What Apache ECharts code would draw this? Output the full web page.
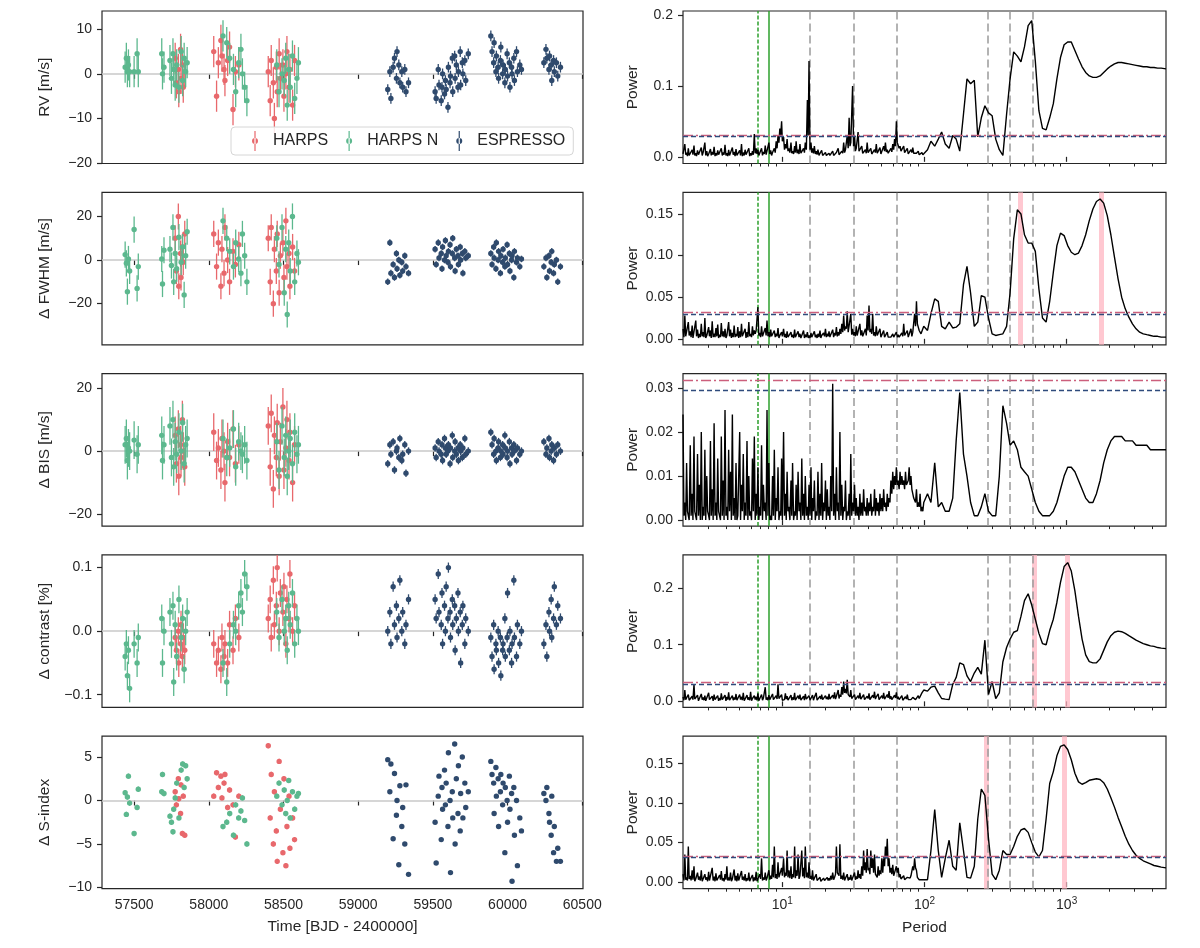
<!DOCTYPE html>
<html>
<head>
<meta charset="utf-8">
<title>Activity indicators and periodograms</title>
<script src="https://cdn.jsdelivr.net/npm/echarts@6/dist/echarts.min.js"></script>
<style>
  html, body { margin: 0; padding: 0; background: #fff; }
  #main { width: 1200px; height: 948px; }
</style>
</head>
<body>
<div id="main"></div>
<script>
// ---- observation times (BJD - 2400000) ----
var timesHARPS = [57775, 57783, 57796, 57799, 57811, 57814, 57823, 57829, 57839,
  58033, 58052, 58064, 58081, 58088, 58102, 58108, 58126, 58139, 58162, 58178, 58201,
  58398, 58411, 58418, 58432, 58439, 58452, 58458, 58471, 58479, 58496, 58503, 58516, 58523, 58537, 58543, 58561, 58574];
var timesHARPSN = [57440, 57448, 57455, 57462, 57470, 57500, 57520, 57528,
  57685, 57690, 57700, 57740, 57750, 57760, 57765, 57775, 57785, 57800, 57815, 57825, 57835, 57845, 57855,
  58095, 58120, 58140, 58165, 58180, 58200, 58215, 58225, 58240, 58255,
  58455, 58470, 58490, 58505, 58515, 58525, 58535, 58545, 58560, 58575, 58590, 58600];
var timesESPRESSO = [59198, 59212, 59219, 59234, 59243, 59256, 59260, 59272, 59279, 59292, 59298, 59312, 59320, 59337,
  59515, 59522, 59536, 59541, 59556, 59561, 59565, 59578, 59584, 59589, 59601, 59604, 59615, 59618,
  59630, 59633, 59646, 59649, 59657, 59668, 59671, 59683, 59686, 59697, 59701, 59714, 59720, 59737,
  59888, 59896, 59907, 59910, 59922, 59925, 59937, 59940, 59952, 59955, 59967, 59970, 59982,
  59985, 59997, 60000, 60012, 60016, 60027, 60030, 60042, 60046, 60060, 60066, 60082, 60093,
  60243, 60257, 60263, 60277, 60281, 60292, 60296, 60308, 60313, 60327, 60336, 60354];

// ---- RV ----
var rvHARPS = [3.5, -2.0, 1.0, -4.0, 5.5, -1.0, 2.0, -3.0, 0.5,
  5.0, -5.0, 2.5, 7.5, 4.0, 1.0, -1.5, 3.0, 6.0, -8.0, 0.5, 2.0,
  0.5, -6.0, 3.0, -2.0, -10.0, 1.5, -4.0, 4.5, -1.0, 2.0, -5.0, 0.0, 5.0, -3.0, 1.0, -7.0, 3.0];
var rvHARPSN = [1.5, 3.5, 0.5, 2.0, 0.5, 0.5, 4.5, 0.5,
  4.5, 0.0, 1.5, 3.0, -1.0, 4.5, 1.0, -2.5, 2.0, -3.0, 5.0, -1.5, 3.5, 0.5, 2.5,
  8.5, 7.0, 3.5, 1.0, -4.0, 2.5, 5.5, 0.0, -3.0, -6.0,
  2.0, -4.0, 0.0, -1.5, 3.5, -7.0, 1.0, -3.0, 4.0, -5.5, -1.0, 2.5];
var rvESPRESSO = [-3.5, 0.5, -5.5, 1.5, 3.5, -1.0, 5.0, 2.0, -2.0, 0.5, -3.0, 1.0, -4.0, -2.0,
  -4.0, -5.5, 1.0, -2.5, -6.0, -3.0, 0.0, -4.5, -1.5, -3.5, -7.5, 1.5, -2.0, -0.5,
  3.5, -4.0, 4.0, -1.0, 2.0, -3.0, 0.5, 5.0, -2.5, 2.5, 0.0, 3.0, -1.5, 4.5,
  8.5, 5.0, 2.5, 7.0, 0.5, 4.0, 1.5, -1.0, 3.0, 6.0, 0.0, 2.0, -2.0,
  1.0, 4.5, -0.5, 2.5, -3.0, 1.5, 0.0, 3.5, -1.5, 5.0, 0.5, 2.0, 1.0,
  2.5, 5.5, 3.5, 1.0, 4.0, 2.0, -1.5, 3.0, 0.5, 2.5, -0.5, 1.5];

// ---- FWHM ----
var fwhmHARPS = [10.0, -5.0, 20.0, -12.0, 3.0, -8.0, 6.0, -1.0, 12.0,
  12.0, -3.0, 8.0, -12.0, 5.0, -6.0, 15.0, 0.0, -10.0, 4.0, -2.0, 7.0,
  10.0, -10.0, 15.0, -20.0, 5.0, -5.0, 12.0, -15.0, 2.0, 8.0, -8.0, 18.0, -3.0, 3.0, -12.0, 6.0, -5.0];
var fwhmHARPSN = [2.5, -1.5, -14.5, 0.5, -5.0, 14.0, -13.0, -3.0,
  0.5, -11.0, 4.5, 5.0, -2.5, 15.0, -10.0, 3.0, -4.0, 10.5, -1.0, 6.0, -16.0, 2.0, 13.0,
  18.0, 10.0, 4.0, -3.0, 8.0, 0.5, -6.0, 12.0, 2.0, -10.0,
  10.0, -2.0, 15.0, -15.0, 5.0, -25.0, 8.0, -5.0, 20.0, -10.0, 3.0, -1.0];
var fwhmESPRESSO = [-10.0, 8.0, -6.0, -2.0, -8.0, 3.0, -4.0, 0.0, -7.0, -1.0, -5.0, 2.0, -3.0, -6.0,
  5.0, -2.0, 8.0, 1.0, 3.0, -4.0, 6.0, 0.0, 9.0, 2.0, -1.0, 4.0, 7.0, -3.0,
  3.0, 10.0, 1.0, -5.0, 5.0, 2.0, -2.0, 6.0, 0.0, 3.0, -6.0, 4.0, 1.0, 2.0,
  3.0, -2.0, 6.0, 1.0, -4.0, 8.0, 0.0, 4.0, -6.0, 2.0, -1.0, 5.0, -3.0,
  1.0, 7.0, -2.0, 3.0, -5.0, 0.0, 2.0, -8.0, 4.0, -1.0, 1.0, -3.0, 0.5,
  -3.0, 1.0, -8.0, 2.0, -5.0, -1.0, 4.0, -6.0, -2.0, 0.0, -10.0, -3.0];

// ---- BIS ----
var bisHARPS = [5.0, -4.0, 7.0, -8.0, 2.0, -2.0, 10.0, 0.0, -5.0,
  6.0, -3.0, 1.0, -6.0, 4.0, 0.0, -10.0, 3.0, -2.0, 7.0, -4.0, 2.0,
  8.0, -5.0, 12.0, -12.0, 5.0, -2.0, 9.0, -8.0, 3.0, 14.0, -6.0, 1.0, 10.0, -3.0, 6.0, -10.0, 2.0];
var bisHARPSN = [2.0, 4.0, -3.0, 1.0, 0.0, 3.5, -1.0, 2.0,
  5.0, -3.0, 2.0, 8.0, -2.0, 10.0, -5.0, 3.0, -1.0, 6.0, 0.0, 9.0, -4.0, 2.0, 4.0,
  4.0, -2.0, 1.0, 7.0, -5.0, 3.0, 0.0, -1.0, 2.0, -3.0,
  3.0, -6.0, 8.0, -2.0, 5.0, -8.0, 0.0, 4.0, -4.0, 6.0, -1.0, 2.0];
var bisESPRESSO = [-4, 2, -1, 3, -6, 0, 1, -2, 4, -3, -1, 2, -7, 0,
  1, -2, 3, 0, -1, 2, -3, 4, 1, -1, 0, 2, -4, 1,
  5, -2, 0, 3, -1, 1, -3, 2, 0, -2, 1, 4, -1, 0,
  6, 2, -1, 4, 0, -3, 1, 3, -2, 0, 2, -1, 5,
  1, -2, 0, 3, -4, 1, -1, 2, 0, -3, 1, -1, 0,
  3, -1, 1, 4, -2, 0, 2, -3, 1, -1, 2, 0];

// ---- contrast ----
var contrastHARPS = [-0.01, -0.03, 0.00, -0.05, -0.02, 0.01, -0.04, -0.01, -0.03,
  -0.02, -0.05, -0.03, -0.06, -0.01, -0.04, -0.02, -0.05, 0.01, -0.03, 0.02, -0.01,
  0.02, 0.05, -0.01, 0.08, 0.01, 0.04, 0.10, 0.00, 0.06, 0.03, 0.07, -0.02, 0.05, 0.02, 0.09, 0.00, 0.04];
var contrastHARPSN = [-0.04, -0.02, -0.07, -0.03, -0.09, -0.02, -0.05, -0.01,
  0.02, -0.05, 0.00, 0.03, -0.02, 0.04, -0.08, 0.01, -0.04, 0.05, -0.01, 0.02, -0.06, 0.00, 0.03,
  -0.05, -0.08, -0.02, 0.01, 0.00, 0.04, 0.06, 0.03, 0.09, 0.07,
  0.03, -0.01, 0.05, 0.00, 0.02, -0.03, 0.04, 0.01, 0.06, -0.02, 0.02, 0.00];
var contrastESPRESSO = [0.00, 0.03, -0.02, 0.07, 0.01, 0.04, -0.01, 0.02, 0.08, 0.00, 0.03, -0.02, 0.01, 0.05,
  0.05, 0.02, 0.09, 0.03, 0.01, 0.06, -0.02, 0.04, 0.00, 0.07, 0.02, 0.10, 0.03, -0.01,
  0.05, 0.01, 0.04, -0.03, 0.02, 0.06, 0.00, 0.03, -0.05, 0.01, 0.04, -0.02, 0.02, 0.00,
  -0.01, -0.04, 0.01, -0.06, -0.02, -0.03, 0.00, -0.05, -0.01, -0.07, -0.03, -0.02, 0.02,
  -0.04, -0.01, 0.06, -0.03, 0.00, -0.05, -0.02, 0.08, -0.01, -0.04, 0.01, -0.02, 0.00,
  -0.02, 0.01, -0.04, 0.03, 0.00, 0.05, -0.01, 0.02, 0.07, 0.01, 0.04, 0.02];

// ---- S-index ----
var sindexHARPS = [1.0, -0.5, 2.5, 0.2, -1.5, 1.8, -3.8, 0.5, -4.0,
  0.5, 3.2, 1.5, 2.8, 0.3, 2.0, 3.0, -0.8, 1.2, -0.5, -4.2, 0.5,
  6.3, -2.0, 3.0, -5.0, 1.0, -3.5, -7.0, 4.5, -1.0, -6.0, 2.5, -7.5, -3.0, 0.5, -5.5, -2.0, -4.5];
var sindexHARPSN = [0.9, -1.6, 0.4, 2.8, -0.3, -3.8, -0.8, 1.3,
  1.0, 3.0, 0.8, -1.8, -2.5, -3.6, -1.0, 0.3, 2.0, -2.0, 3.5, 4.2, 1.5, 4.0, 2.5,
  -3.0, -2.5, -1.5, -4.0, -0.5, -2.0, -1.2, 0.3, -2.3, -5.0,
  0.5, 2.0, -0.5, 1.2, -1.5, 0.0, 2.3, -2.0, 1.0, -1.0, 0.5, 0.8];
var sindexESPRESSO = [4.7, 1.0, 4.2, -4.4, 3.1, -1.7, 0.0, -7.4, 1.7, -3.0, -0.8, -5.0, 1.8, -8.5,
  -2.5, -7.2, 0.5, 2.8, -4.5, 1.5, -1.0, 3.5, -0.5, 2.0, -3.0, 5.5, 0.0, -8.3,
  1.0, -2.0, 6.5, -5.0, 2.5, -1.5, 4.0, -3.5, 0.8, 5.0, -2.0, 2.0, -0.8, 1.0,
  4.5, 3.0, 2.0, -1.5, 3.8, 0.5, 2.5, -3.0, 1.0, 3.0, -0.5, 2.0, -6.0,
  1.5, 0.0, -2.5, 2.8, -1.0, 0.8, -9.3, 1.5, -4.0, 0.0, -7.5, -2.0, -3.5,
  0.8, 0.0, 1.5, -1.5, -2.5, -4.0, 0.5, -6.0, -3.0, -7.0, -5.5, -7.0];

// typical error bar half-length per indicator (RV, FWHM, BIS, contrast, S-index)
var errHARPS = [3.5, 6, 6, 0.022, 0.3];
var errHARPSN = [3.5, 6, 6, 0.022, 0.3];
var errESPRESSO = [1.2, 1.5, 1.2, 0.008, 0.15];

// ---- periodograms ----
var periods = [
  2.00, 2.06, 2.12, 2.18, 2.25, 2.32, 2.39, 2.46, 2.53, 2.61,
  2.69, 2.77, 2.85, 2.94, 3.03, 3.12, 3.21, 3.31, 3.41, 3.51,
  3.62, 3.72, 3.84, 3.95, 4.07, 4.19, 4.32, 4.45, 4.58, 4.72,
  4.86, 5.01, 5.16, 5.31, 5.47, 5.64, 5.81, 5.98, 6.16, 6.35,
  6.54, 6.73, 6.93, 7.14, 7.36, 7.58, 7.80, 8.04, 8.28, 8.53,
  8.78, 9.05, 9.32, 9.60, 9.88, 10.2, 10.5, 10.8, 11.1, 11.5,
  11.8, 12.2, 12.5, 12.9, 13.3, 13.7, 14.1, 14.5, 15.0, 15.4,
  15.9, 16.3, 16.8, 17.3, 17.8, 18.4, 18.9, 19.5, 20.1, 20.7,
  21.3, 21.9, 22.6, 23.3, 24.0, 24.7, 25.4, 26.2, 27.0, 27.8,
  28.6, 29.5, 30.3, 31.2, 32.2, 33.1, 34.1, 35.1, 36.2, 37.3,
  38.4, 39.5, 40.7, 41.9, 43.2, 44.5, 45.8, 47.2, 48.6, 50.1,
  51.6, 53.1, 54.7, 56.3, 58.0, 59.8, 61.6, 63.4, 65.3, 67.3,
  69.3, 71.4, 73.5, 75.7, 78.0, 80.3, 82.7, 85.2, 87.8, 90.4,
  93.1, 95.9, 98.8,
  105, 111, 118, 125, 132, 140, 149, 158, 167, 177,
  188, 199, 211, 224, 237, 251, 266, 282, 299, 317,
  336, 356, 378, 400, 424, 450, 477, 505, 536, 568,
  602, 638, 676, 717, 760, 806, 854, 905, 960, 1017,
  1078, 1143, 1212, 1284, 1361, 1443, 1530, 1621, 1719, 1822,
  1931, 2047, 2170, 2300, 2438, 2584, 2739, 2904, 3078, 3263,
  3459, 3666, 3886, 4119, 4366, 4628, 5000];

// periods between the short-period samples, where the noisy part dips back down
var troughPeriods = [
  2.03, 2.09, 2.15, 2.21, 2.28, 2.35, 2.42, 2.49, 2.57, 2.65,
  2.73, 2.81, 2.89, 2.98, 3.07, 3.16, 3.26, 3.36, 3.46, 3.56,
  3.67, 3.78, 3.89, 4.01, 4.13, 4.25, 4.38, 4.51, 4.65, 4.79,
  4.93, 5.08, 5.23, 5.39, 5.55, 5.72, 5.89, 6.07, 6.25, 6.44,
  6.63, 6.83, 7.03, 7.25, 7.47, 7.69, 7.92, 8.16, 8.40, 8.65,
  8.91, 9.18, 9.46, 9.74, 10.0, 10.35, 10.65, 10.95, 11.3, 11.65,
  12.0, 12.35, 12.7, 13.1, 13.5, 13.9, 14.3, 14.75, 15.2, 15.65,
  16.1, 16.55, 17.05, 17.55, 18.1, 18.65, 19.2, 19.8, 20.4, 21.0,
  21.6, 22.25, 22.95, 23.65, 24.35, 25.05, 25.8, 26.6, 27.4, 28.2,
  29.05, 29.9, 30.75, 31.7, 32.65, 33.6, 34.6, 35.65, 36.75, 37.85,
  38.95, 40.1, 41.3, 42.55, 43.85, 45.15, 46.5, 47.9, 49.35, 50.85,
  52.35, 53.9, 55.5, 57.15, 58.9, 60.7, 62.5, 64.35, 66.3, 68.3,
  70.35, 72.45, 74.6, 76.85, 79.15, 81.5, 83.95, 86.5, 89.1, 91.75,
  94.5, 97.35];

var powerRV = [
  0.004, 0.018, 0.006, 0.012, 0.003, 0.010, 0.016, 0.005, 0.009, 0.004,
  0.013, 0.006, 0.020, 0.008, 0.004, 0.011, 0.007, 0.014, 0.005, 0.009,
  0.003, 0.012, 0.006, 0.017, 0.005, 0.010, 0.004, 0.013, 0.007, 0.011,
  0.004, 0.009, 0.018, 0.006, 0.010, 0.003, 0.012, 0.005, 0.008, 0.032,
  0.012, 0.010, 0.004, 0.012, 0.007, 0.016, 0.005, 0.020, 0.009, 0.006,
  0.012, 0.022, 0.030, 0.040, 0.050, 0.028, 0.018, 0.025, 0.012, 0.020,
  0.008, 0.015, 0.022, 0.010, 0.018, 0.006, 0.012, 0.020, 0.080, 0.135,
  0.020, 0.012, 0.015, 0.008, 0.010, 0.005, 0.009, 0.004, 0.006, 0.003,
  0.005, 0.003, 0.008, 0.004, 0.006, 0.012, 0.005, 0.008, 0.020, 0.010,
  0.030, 0.055, 0.020, 0.100, 0.030, 0.012, 0.035, 0.010, 0.015, 0.006,
  0.010, 0.020, 0.008, 0.012, 0.005, 0.010, 0.018, 0.007, 0.013, 0.006,
  0.015, 0.020, 0.010, 0.006, 0.012, 0.018, 0.025, 0.050, 0.020, 0.015,
  0.010, 0.015, 0.008, 0.012, 0.006, 0.010, 0.013, 0.007, 0.005, 0.008,
  0.004, 0.006, 0.004,
  0.010, 0.022, 0.015, 0.025, 0.035, 0.018, 0.012, 0.030, 0.025, 0.008,
  0.060, 0.110, 0.103, 0.108, 0.028, 0.055, 0.072, 0.062, 0.058, 0.025,
  0.010, 0.002, 0.060, 0.110, 0.148, 0.142, 0.134, 0.155, 0.185, 0.192,
  0.135, 0.065, 0.040, 0.038, 0.055, 0.075, 0.110, 0.140, 0.158, 0.162,
  0.162, 0.150, 0.138, 0.127, 0.119, 0.114, 0.112, 0.112, 0.114, 0.119,
  0.124, 0.128, 0.131, 0.133, 0.133, 0.132, 0.131, 0.130, 0.129, 0.128,
  0.127, 0.127, 0.126, 0.126, 0.125, 0.125, 0.124];
var troughRV = [
  0.002, 0.003, 0.001, 0.002, 0.001, 0.003, 0.002, 0.001, 0.003, 0.002,
  0.002, 0.004, 0.002, 0.001, 0.003, 0.002, 0.003, 0.001, 0.002, 0.003,
  0.001, 0.002, 0.003, 0.002, 0.001, 0.002, 0.002, 0.003, 0.001, 0.002,
  0.003, 0.002, 0.001, 0.002, 0.003, 0.002, 0.001, 0.002, 0.003, 0.005,
  0.004, 0.002, 0.003, 0.002, 0.004, 0.003, 0.005, 0.004, 0.002, 0.004,
  0.006, 0.012, 0.020, 0.030, 0.022, 0.010, 0.012, 0.008, 0.006, 0.005,
  0.004, 0.006, 0.005, 0.004, 0.005, 0.004, 0.006, 0.010, 0.030, 0.010,
  0.006, 0.005, 0.004, 0.003, 0.002, 0.003, 0.002, 0.002, 0.002, 0.002,
  0.002, 0.003, 0.002, 0.003, 0.004, 0.003, 0.004, 0.005, 0.006, 0.008,
  0.012, 0.015, 0.020, 0.015, 0.008, 0.010, 0.008, 0.006, 0.005, 0.004,
  0.005, 0.006, 0.005, 0.004, 0.004, 0.006, 0.005, 0.006, 0.004, 0.005,
  0.008, 0.007, 0.005, 0.004, 0.007, 0.010, 0.015, 0.020, 0.012, 0.008,
  0.007, 0.006, 0.005, 0.004, 0.004, 0.006, 0.005, 0.004, 0.004, 0.003,
  0.003, 0.003];

var powerFWHM = [
  0.012, 0.028, 0.005, 0.020, 0.009, 0.016, 0.003, 0.022, 0.011, 0.006,
  0.018, 0.008, 0.025, 0.004, 0.014, 0.010, 0.021, 0.006, 0.013, 0.017,
  0.005, 0.019, 0.009, 0.012, 0.004, 0.020, 0.011, 0.007, 0.016, 0.006,
  0.014, 0.009, 0.018, 0.005, 0.012, 0.008, 0.020, 0.006, 0.015, 0.010,
  0.010, 0.038, 0.007, 0.015, 0.005, 0.013, 0.022, 0.008, 0.011, 0.005,
  0.010, 0.006, 0.013, 0.004, 0.008, 0.012, 0.006, 0.009, 0.003, 0.008,
  0.005, 0.011, 0.004, 0.009, 0.006, 0.003, 0.010, 0.005, 0.008, 0.004,
  0.007, 0.003, 0.009, 0.005, 0.006, 0.010, 0.004, 0.007, 0.012, 0.006,
  0.009, 0.005, 0.011, 0.007, 0.014, 0.008, 0.012, 0.018, 0.028, 0.015,
  0.033, 0.010, 0.030, 0.012, 0.008, 0.015, 0.006, 0.018, 0.010, 0.005,
  0.012, 0.028, 0.040, 0.012, 0.030, 0.008, 0.015, 0.006, 0.012, 0.004,
  0.010, 0.003, 0.008, 0.004, 0.002, 0.006, 0.003, 0.008, 0.005, 0.003,
  0.007, 0.018, 0.006, 0.010, 0.004, 0.012, 0.008, 0.030, 0.045, 0.020,
  0.012, 0.008, 0.015,
  0.010, 0.030, 0.048, 0.045, 0.015, 0.012, 0.020, 0.013, 0.014, 0.018,
  0.065, 0.087, 0.055, 0.015, 0.020, 0.052, 0.050, 0.025, 0.006, 0.004,
  0.005, 0.006, 0.015, 0.055, 0.120, 0.155, 0.150, 0.125, 0.115, 0.115,
  0.105, 0.060, 0.025, 0.020, 0.045, 0.080, 0.112, 0.127, 0.124, 0.112,
  0.104, 0.101, 0.103, 0.112, 0.125, 0.142, 0.156, 0.165, 0.168, 0.163,
  0.148, 0.125, 0.098, 0.072, 0.050, 0.036, 0.026, 0.018, 0.012, 0.008,
  0.006, 0.005, 0.004, 0.003, 0.003, 0.002, 0.002];
var troughFWHM = [
  0.002, 0.003, 0.001, 0.004, 0.002, 0.001, 0.002, 0.003, 0.001, 0.002,
  0.003, 0.002, 0.001, 0.002, 0.003, 0.001, 0.002, 0.002, 0.003, 0.001,
  0.002, 0.003, 0.002, 0.001, 0.002, 0.003, 0.001, 0.002, 0.002, 0.003,
  0.001, 0.002, 0.003, 0.002, 0.001, 0.002, 0.003, 0.002, 0.004, 0.006,
  0.008, 0.004, 0.002, 0.003, 0.002, 0.004, 0.003, 0.002, 0.003, 0.002,
  0.002, 0.003, 0.001, 0.002, 0.003, 0.002, 0.001, 0.002, 0.001, 0.002,
  0.001, 0.002, 0.001, 0.002, 0.001, 0.002, 0.001, 0.002, 0.001, 0.001,
  0.002, 0.001, 0.002, 0.001, 0.002, 0.001, 0.002, 0.003, 0.002, 0.003,
  0.002, 0.003, 0.002, 0.004, 0.003, 0.004, 0.006, 0.008, 0.010, 0.012,
  0.008, 0.006, 0.005, 0.004, 0.003, 0.004, 0.003, 0.004, 0.003, 0.002,
  0.004, 0.010, 0.008, 0.006, 0.004, 0.003, 0.004, 0.003, 0.002, 0.002,
  0.002, 0.001, 0.002, 0.001, 0.001, 0.002, 0.001, 0.002, 0.002, 0.001,
  0.003, 0.004, 0.003, 0.002, 0.002, 0.003, 0.006, 0.015, 0.018, 0.010,
  0.006, 0.006];

var powerBIS = [
  0.024, 0.004, 0.013, 0.001, 0.017, 0.006, 0.019, 0.002, 0.015, 0.008,
  0.020, 0.003, 0.016, 0.010, 0.001, 0.018, 0.007, 0.022, 0.004, 0.014,
  0.002, 0.019, 0.009, 0.025, 0.003, 0.016, 0.011, 0.024, 0.005, 0.013,
  0.001, 0.020, 0.008, 0.015, 0.004, 0.018, 0.010, 0.002, 0.014, 0.019,
  0.006, 0.012, 0.003, 0.017, 0.008, 0.004, 0.025, 0.013, 0.001, 0.010,
  0.016, 0.005, 0.012, 0.002, 0.014, 0.020, 0.006, 0.011, 0.003, 0.009,
  0.013, 0.002, 0.008, 0.011, 0.004, 0.014, 0.006, 0.010, 0.003, 0.008,
  0.012, 0.005, 0.009, 0.002, 0.011, 0.006, 0.013, 0.004, 0.009, 0.007,
  0.003, 0.010, 0.031, 0.006, 0.012, 0.004, 0.020, 0.008, 0.003, 0.009,
  0.002, 0.006, 0.015, 0.004, 0.008, 0.005, 0.003, 0.006, 0.004, 0.007,
  0.003, 0.005, 0.004, 0.006, 0.003, 0.007, 0.005, 0.004, 0.006, 0.005,
  0.007, 0.004, 0.006, 0.005, 0.009, 0.011, 0.010, 0.012, 0.009, 0.011,
  0.010, 0.009, 0.011, 0.008, 0.012, 0.010, 0.007, 0.005, 0.007, 0.004,
  0.006, 0.003, 0.004,
  0.006, 0.004, 0.013, 0.003, 0.004, 0.002, 0.002, 0.005, 0.018, 0.029,
  0.015, 0.010, 0.004, 0.001, 0.001, 0.003, 0.006, 0.002, 0.001, 0.001,
  0.010, 0.026, 0.022, 0.017, 0.018, 0.016, 0.012, 0.011, 0.010, 0.007,
  0.004, 0.002, 0.001, 0.001, 0.001, 0.002, 0.004, 0.007, 0.010, 0.012,
  0.012, 0.011, 0.009, 0.007, 0.005, 0.004, 0.004, 0.006, 0.009, 0.013,
  0.016, 0.018, 0.019, 0.019, 0.019, 0.018, 0.018, 0.018, 0.017, 0.017,
  0.017, 0.017, 0.016, 0.016, 0.016, 0.016, 0.016];
var troughBIS = [
  0.001, 0.000, 0.002, 0.000, 0.001, 0.000, 0.002, 0.000, 0.001, 0.000,
  0.000, 0.001, 0.000, 0.002, 0.000, 0.001, 0.000, 0.001, 0.000, 0.002,
  0.000, 0.001, 0.000, 0.001, 0.000, 0.002, 0.000, 0.001, 0.000, 0.000,
  0.001, 0.000, 0.002, 0.000, 0.001, 0.000, 0.001, 0.000, 0.002, 0.000,
  0.001, 0.000, 0.001, 0.000, 0.002, 0.000, 0.001, 0.000, 0.000, 0.001,
  0.000, 0.002, 0.000, 0.001, 0.000, 0.001, 0.000, 0.002, 0.000, 0.001,
  0.000, 0.001, 0.000, 0.002, 0.000, 0.001, 0.000, 0.001, 0.000, 0.001,
  0.000, 0.002, 0.000, 0.001, 0.000, 0.001, 0.000, 0.002, 0.000, 0.001,
  0.000, 0.002, 0.001, 0.000, 0.002, 0.000, 0.001, 0.000, 0.002, 0.000,
  0.001, 0.000, 0.001, 0.002, 0.001, 0.001, 0.000, 0.001, 0.001, 0.002,
  0.001, 0.001, 0.002, 0.001, 0.002, 0.001, 0.002, 0.001, 0.002, 0.002,
  0.003, 0.002, 0.003, 0.004, 0.006, 0.007, 0.008, 0.008, 0.007, 0.008,
  0.008, 0.007, 0.008, 0.009, 0.008, 0.007, 0.005, 0.004, 0.003, 0.003,
  0.002, 0.002];

var powerContrast = [
  0.008, 0.020, 0.005, 0.012, 0.003, 0.009, 0.030, 0.006, 0.011, 0.004,
  0.013, 0.007, 0.010, 0.003, 0.015, 0.006, 0.009, 0.012, 0.004, 0.010,
  0.006, 0.014, 0.005, 0.011, 0.008, 0.016, 0.004, 0.010, 0.007, 0.013,
  0.005, 0.012, 0.008, 0.015, 0.004, 0.011, 0.007, 0.017, 0.005, 0.010,
  0.008, 0.014, 0.004, 0.012, 0.006, 0.025, 0.007, 0.011, 0.005, 0.013,
  0.006, 0.010, 0.030, 0.008, 0.012, 0.005, 0.014, 0.009, 0.004, 0.011,
  0.007, 0.015, 0.005, 0.010, 0.012, 0.004, 0.009, 0.013, 0.006, 0.010,
  0.004, 0.011, 0.007, 0.015, 0.005, 0.009, 0.012, 0.006, 0.010, 0.008,
  0.013, 0.007, 0.011, 0.016, 0.009, 0.020, 0.012, 0.025, 0.035, 0.022,
  0.038, 0.015, 0.020, 0.008, 0.012, 0.006, 0.010, 0.015, 0.007, 0.012,
  0.005, 0.009, 0.014, 0.006, 0.011, 0.017, 0.008, 0.013, 0.005, 0.010,
  0.015, 0.007, 0.012, 0.018, 0.009, 0.005, 0.011, 0.016, 0.008, 0.006,
  0.010, 0.004, 0.008, 0.012, 0.006, 0.003, 0.007, 0.009, 0.005, 0.010,
  0.008, 0.015, 0.020,
  0.018, 0.025, 0.027, 0.015, 0.005, 0.004, 0.003, 0.030, 0.042, 0.068,
  0.065, 0.045, 0.035, 0.050, 0.060, 0.048, 0.108, 0.012, 0.035, 0.005,
  0.015, 0.070, 0.095, 0.110, 0.122, 0.125, 0.150, 0.178, 0.190, 0.170,
  0.145, 0.120, 0.102, 0.100, 0.125, 0.145, 0.175, 0.210, 0.238, 0.245,
  0.230, 0.195, 0.150, 0.110, 0.082, 0.070, 0.068, 0.068, 0.075, 0.090,
  0.105, 0.116, 0.122, 0.124, 0.123, 0.120, 0.116, 0.112, 0.108, 0.105,
  0.102, 0.100, 0.098, 0.097, 0.095, 0.094, 0.093];
var troughContrast = [
  0.002, 0.003, 0.001, 0.002, 0.001, 0.003, 0.004, 0.002, 0.001, 0.002,
  0.003, 0.002, 0.001, 0.002, 0.003, 0.002, 0.001, 0.003, 0.002, 0.001,
  0.002, 0.003, 0.002, 0.001, 0.003, 0.002, 0.001, 0.002, 0.003, 0.002,
  0.001, 0.003, 0.002, 0.001, 0.002, 0.003, 0.002, 0.001, 0.002, 0.003,
  0.002, 0.001, 0.003, 0.002, 0.004, 0.003, 0.002, 0.003, 0.002, 0.003,
  0.002, 0.004, 0.005, 0.003, 0.002, 0.003, 0.004, 0.002, 0.003, 0.002,
  0.003, 0.002, 0.003, 0.004, 0.002, 0.003, 0.002, 0.004, 0.003, 0.002,
  0.003, 0.002, 0.004, 0.002, 0.003, 0.004, 0.003, 0.002, 0.004, 0.003,
  0.004, 0.003, 0.005, 0.004, 0.006, 0.005, 0.008, 0.012, 0.015, 0.014,
  0.012, 0.008, 0.005, 0.004, 0.003, 0.004, 0.005, 0.004, 0.005, 0.003,
  0.004, 0.005, 0.003, 0.005, 0.006, 0.004, 0.005, 0.003, 0.004, 0.005,
  0.004, 0.005, 0.006, 0.004, 0.003, 0.004, 0.006, 0.004, 0.003, 0.004,
  0.002, 0.003, 0.004, 0.003, 0.002, 0.003, 0.004, 0.003, 0.004, 0.005,
  0.008, 0.012];

var powerSindex = [
  0.010, 0.035, 0.006, 0.045, 0.008, 0.015, 0.020, 0.004, 0.012, 0.007,
  0.015, 0.003, 0.010, 0.006, 0.013, 0.004, 0.018, 0.007, 0.011, 0.003,
  0.009, 0.014, 0.005, 0.010, 0.020, 0.006, 0.012, 0.004, 0.016, 0.008,
  0.011, 0.003, 0.014, 0.007, 0.010, 0.005, 0.012, 0.004, 0.009, 0.006,
  0.013, 0.002, 0.010, 0.030, 0.006, 0.012, 0.005, 0.015, 0.008, 0.022,
  0.045, 0.010, 0.025, 0.008, 0.018, 0.030, 0.012, 0.040, 0.015, 0.020,
  0.010, 0.045, 0.015, 0.035, 0.008, 0.040, 0.018, 0.045, 0.012, 0.025,
  0.008, 0.015, 0.005, 0.010, 0.004, 0.006, 0.003, 0.005, 0.004, 0.006,
  0.005, 0.008, 0.012, 0.006, 0.045, 0.010, 0.048, 0.008, 0.012, 0.005,
  0.010, 0.006, 0.009, 0.004, 0.012, 0.007, 0.015, 0.010, 0.020, 0.040,
  0.025, 0.042, 0.018, 0.040, 0.030, 0.035, 0.012, 0.020, 0.015, 0.030,
  0.030, 0.045, 0.055, 0.030, 0.018, 0.022, 0.012, 0.020, 0.018, 0.010,
  0.005, 0.008, 0.004, 0.006, 0.006, 0.008, 0.020, 0.030, 0.015, 0.004,
  0.002, 0.003, 0.004,
  0.003, 0.040, 0.092, 0.040, 0.006, 0.030, 0.053, 0.020, 0.015, 0.075,
  0.040, 0.006, 0.005, 0.020, 0.080, 0.118, 0.110, 0.055, 0.010, 0.003,
  0.015, 0.040, 0.035, 0.035, 0.045, 0.058, 0.066, 0.068, 0.063, 0.050,
  0.038, 0.032, 0.040, 0.080, 0.125, 0.140, 0.160, 0.172, 0.174, 0.168,
  0.155, 0.138, 0.127, 0.124, 0.126, 0.129, 0.130, 0.131, 0.130, 0.126,
  0.118, 0.107, 0.095, 0.082, 0.070, 0.058, 0.048, 0.040, 0.034, 0.030,
  0.027, 0.025, 0.023, 0.021, 0.020, 0.019, 0.018];
var troughSindex = [
  0.002, 0.003, 0.002, 0.004, 0.002, 0.003, 0.001, 0.002, 0.003, 0.002,
  0.001, 0.002, 0.003, 0.001, 0.002, 0.003, 0.002, 0.001, 0.002, 0.002,
  0.003, 0.002, 0.001, 0.003, 0.002, 0.002, 0.001, 0.003, 0.002, 0.001,
  0.002, 0.001, 0.003, 0.002, 0.001, 0.002, 0.001, 0.002, 0.001, 0.002,
  0.001, 0.002, 0.004, 0.002, 0.003, 0.002, 0.004, 0.003, 0.004, 0.006,
  0.005, 0.004, 0.006, 0.005, 0.008, 0.006, 0.008, 0.006, 0.005, 0.004,
  0.006, 0.005, 0.008, 0.004, 0.006, 0.007, 0.005, 0.006, 0.005, 0.004,
  0.003, 0.002, 0.003, 0.002, 0.002, 0.001, 0.002, 0.002, 0.001, 0.002,
  0.002, 0.003, 0.003, 0.010, 0.012, 0.008, 0.004, 0.003, 0.002, 0.003,
  0.002, 0.003, 0.002, 0.004, 0.003, 0.004, 0.005, 0.004, 0.008, 0.015,
  0.012, 0.015, 0.010, 0.018, 0.012, 0.010, 0.006, 0.008, 0.010, 0.012,
  0.020, 0.030, 0.020, 0.012, 0.010, 0.008, 0.010, 0.012, 0.006, 0.004,
  0.003, 0.003, 0.002, 0.004, 0.005, 0.006, 0.015, 0.018, 0.006, 0.003,
  0.002, 0.002];

// false-alarm levels per panel: [upper (dash-dot), lower (dashed)]
var fapLevels = [[0.031, 0.029], [0.032, 0.030], [0.0317, 0.0295], [0.034, 0.031], [0.033, 0.031]];
// marked periods
var planetPeriodDashed = 6.73;
var planetPeriodSolid = 8.04;
var greyPeriods = [15.6, 31.9, 63.7, 280, 396, 577];
var highlightPeriods = [[], [468, 1750], [], [590, 1016], [270, 955]];

// axes
var timeTicks = [57500, 58000, 58500, 59000, 59500, 60000, 60500];
var periodTicks = [10, 100, 1000];
var periodMinorTicks = [3, 4, 5, 6, 7, 8, 9, 20, 30, 40, 50, 60, 70, 80, 90,
  200, 300, 400, 500, 600, 700, 800, 900, 2000, 3000, 4000];
var leftNames = ['RV [m/s]', '\u0394 FWHM [m/s]', '\u0394 BIS [m/s]', '\u0394 contrast [%]', '\u0394 S-index'];
var leftRanges = [[-20.1, 14.1], [-38.9, 31.1], [-23.8, 24.6], [-0.12, 0.12], [-10.15, 7.4]];
var leftTicks = [[-20, -10, 0, 10], [-20, 0, 20], [-20, 0, 20], [-0.1, 0, 0.1], [-10, -5, 0, 5]];
var leftDecimals = [0, 0, 0, 1, 0];
var rightRanges = [[-0.0094, 0.2056], [-0.0072, 0.176], [-0.00137, 0.0333], [-0.0107, 0.2586], [-0.0084, 0.1849]];
var rightTicks = [[0, 0.1, 0.2], [0, 0.05, 0.1, 0.15], [0, 0.01, 0.02, 0.03], [0, 0.1, 0.2], [0, 0.05, 0.1, 0.15]];
var rightDecimals = [1, 2, 2, 1, 2];

var valsHARPS = [rvHARPS, fwhmHARPS, bisHARPS, contrastHARPS, sindexHARPS];
var valsHARPSN = [rvHARPSN, fwhmHARPSN, bisHARPSN, contrastHARPSN, sindexHARPSN];
var valsESPRESSO = [rvESPRESSO, fwhmESPRESSO, bisESPRESSO, contrastESPRESSO, sindexESPRESSO];
var powers = [powerRV, powerFWHM, powerBIS, powerContrast, powerSindex];
var troughs = [troughRV, troughFWHM, troughBIS, troughContrast, troughSindex];

// ---- styling ----
var FONT = '"Liberation Sans", Arial, sans-serif';
var INK = '#262626';
var C_HARPS = '#e8686c';
var C_HARPSN = '#5cb88e';
var C_ESP = '#2f4a6d';
var C_FAP1 = '#cc5f7c';
var C_FAP2 = '#2f4b7c';
var C_PINK = 'rgba(255, 182, 193, 0.75)';
var C_GREEN = '#2ca02c';

var LEFT_X = 102, LEFT_W = 481, RIGHT_X = 683, RIGHT_W = 483;
var ROW_TOP = [11, 192.3, 373.6, 554.9, 736.2], ROW_H = 152.5;

function fmtNum(v, d) {
  var s = Math.abs(v).toFixed(d);
  return (v < 0 ? '\u2212' : '') + s;
}

function renderErr(params, api) {
  var t = api.value(0), v = api.value(1), e = api.value(2);
  var c = api.coord([t, v]);
  var top = api.coord([t, v + e])[1];
  var bot = api.coord([t, v - e])[1];
  var cs = params.coordSys;
  top = Math.max(top, cs.y);
  bot = Math.min(bot, cs.y + cs.height);
  var color = api.visual('color');
  return {
    type: 'group',
    children: [
      { type: 'line', shape: { x1: c[0], y1: top, x2: c[0], y2: bot }, style: { stroke: color, lineWidth: 1.3 } },
      { type: 'circle', shape: { cx: c[0], cy: c[1], r: 2.7 }, style: { fill: color } }
    ]
  };
}

function errSeries(name, color, times, vals, err, xi, yi, extra) {
  var s = {
    type: 'custom', name: name, xAxisIndex: xi, yAxisIndex: yi,
    data: times.map(function (t, i) { return [t, vals[i], err]; }),
    encode: { x: 0, y: 1 },
    renderItem: renderErr,
    itemStyle: { color: color },
    silent: true, animation: false, z: 2
  };
  if (extra) { for (var k in extra) s[k] = extra[k]; }
  return s;
}

// merge peak samples and the dips between them into one curve, ordered by period
function buildCurve(pw, tr) {
  var pts = periods.map(function (per, i) { return [per, pw[i]]; });
  troughPeriods.forEach(function (per, i) { pts.push([per, tr[i]]); });
  pts.sort(function (a, b) { return a[0] - b[0]; });
  return pts;
}

var tickStyle = { color: INK, width: 1.2 };
var labelStyle = { color: INK, fontSize: 14, fontFamily: FONT };
var nameStyle = { color: INK, fontSize: 15.5, fontFamily: FONT };

var grid = [], xAxis = [], yAxis = [], series = [];

for (var p = 0; p < 5; p++) {
  var last = (p === 4);

  // ---------- left: time series ----------
  grid.push({ left: LEFT_X, top: ROW_TOP[p], width: LEFT_W, height: ROW_H,
    show: true, borderColor: INK, borderWidth: 1.2, backgroundColor: 'transparent' });
  var g = grid.length - 1;
  xAxis.push({
    gridIndex: g, type: 'value', min: 57285, max: 60505, position: 'bottom',
    axisLine: { show: false }, splitLine: { show: false },
    axisTick: { show: true, length: 5, lineStyle: tickStyle, customValues: timeTicks },
    axisLabel: { show: last, margin: 9, customValues: timeTicks, formatter: function (v) { return String(v); }, textStyle: labelStyle },
    name: last ? 'Time [BJD - 2400000]' : '', nameLocation: 'middle', nameGap: 30, nameTextStyle: nameStyle
  });
  var xl = xAxis.length - 1;
  yAxis.push({
    gridIndex: g, type: 'value', min: leftRanges[p][0], max: leftRanges[p][1],
    axisLine: { show: false }, splitLine: { show: false },
    axisTick: { show: true, length: 5, lineStyle: tickStyle, customValues: leftTicks[p] },
    axisLabel: { margin: 10, customValues: leftTicks[p], textStyle: labelStyle,
      formatter: (function (d) { return function (v) { return fmtNum(v, d); }; })(leftDecimals[p]) },
    name: leftNames[p], nameLocation: 'middle', nameGap: 49, nameRotate: 90, nameTextStyle: nameStyle
  });
  var yl = yAxis.length - 1;

  series.push(errSeries('HARPS', C_HARPS, timesHARPS, valsHARPS[p], errHARPS[p], xl, yl, {
    markLine: { silent: true, symbol: 'none', z: 1, animation: false, label: { show: false }, precision: 4,
      lineStyle: { color: '#c8c8c8', width: 1.5, type: 'solid' },
      data: [{ yAxis: 0 }] }
  }));
  series.push(errSeries('HARPS N', C_HARPSN, timesHARPSN, valsHARPSN[p], errHARPSN[p], xl, yl));
  series.push(errSeries('ESPRESSO', C_ESP, timesESPRESSO, valsESPRESSO[p], errESPRESSO[p], xl, yl));

  // ---------- right: periodogram ----------
  grid.push({ left: RIGHT_X, top: ROW_TOP[p], width: RIGHT_W, height: ROW_H,
    show: true, borderColor: INK, borderWidth: 1.2, backgroundColor: 'transparent' });
  g = grid.length - 1;
  xAxis.push({
    gridIndex: g, type: 'log', logBase: 10, min: 2, max: 5000, position: 'bottom',
    axisLine: { show: false }, splitLine: { show: false },
    axisTick: { show: true, length: 5, lineStyle: tickStyle, customValues: periodTicks },
    axisLabel: { show: last, margin: 8, customValues: periodTicks, textStyle: labelStyle,
      formatter: function (v) { return '10{sup|' + Math.round(Math.log(v) / Math.LN10) + '}'; },
      rich: { sup: { fontSize: 10, fontFamily: FONT, color: INK, verticalAlign: 'top', padding: [0, 0, 7, 0] } } },
    name: last ? 'Period' : '', nameLocation: 'middle', nameGap: 31, nameTextStyle: nameStyle
  });
  var xr = xAxis.length - 1;
  xAxis.push({
    gridIndex: g, type: 'log', logBase: 10, min: 2, max: 5000, position: 'bottom',
    axisLine: { show: false }, splitLine: { show: false },
    axisTick: { show: true, length: 3, lineStyle: { color: INK, width: 1 }, customValues: periodMinorTicks },
    axisLabel: { show: false }
  });
  yAxis.push({
    gridIndex: g, type: 'value', min: rightRanges[p][0], max: rightRanges[p][1],
    axisLine: { show: false }, splitLine: { show: false },
    axisTick: { show: true, length: 5, lineStyle: tickStyle, customValues: rightTicks[p] },
    axisLabel: { margin: 10, customValues: rightTicks[p], textStyle: labelStyle,
      formatter: (function (d) { return function (v) { return fmtNum(v, d); }; })(rightDecimals[p]) },
    name: 'Power', nameLocation: 'middle', nameGap: 42, nameRotate: 90, nameTextStyle: nameStyle
  });
  var yr = yAxis.length - 1;

  var vlines = [];
  highlightPeriods[p].forEach(function (per) {
    vlines.push({ xAxis: per, lineStyle: { color: C_PINK, width: 5, type: 'solid' } });
  });
  greyPeriods.forEach(function (per) {
    vlines.push({ xAxis: per, lineStyle: { color: '#9a9a9a', width: 1.5, type: [8, 4] } });
  });
  vlines.push({ xAxis: planetPeriodDashed, lineStyle: { color: C_GREEN, width: 1.5, type: [4, 2] } });
  vlines.push({ xAxis: planetPeriodSolid, lineStyle: { color: C_GREEN, width: 1.5, type: 'solid' } });

  series.push({
    type: 'line', name: 'marks' + p, xAxisIndex: xr, yAxisIndex: yr, data: [], silent: true, z: 1,
    markLine: { silent: true, symbol: 'none', z: 1, animation: false, label: { show: false }, precision: 4, data: vlines }
  });

  series.push({
    type: 'line', name: 'power' + p, xAxisIndex: xr, yAxisIndex: yr,
    data: buildCurve(powers[p], troughs[p]),
    showSymbol: false, symbol: 'none', silent: true, animation: false, z: 3,
    lineStyle: { color: '#000', width: 1.4 },
    markLine: { silent: true, symbol: 'none', z: 4, animation: false, label: { show: false }, precision: 5,
      data: [
        { yAxis: fapLevels[p][0], lineStyle: { color: C_FAP1, width: 1.4, type: [10, 3, 2, 3] } },
        { yAxis: fapLevels[p][1], lineStyle: { color: C_FAP2, width: 1.4, type: [5, 3] } }
      ] }
  });
}

var errIcon = 'path://M4.4,0h1.2v20h-1.2z M2,10a3,3 0 1,0 6,0a3,3 0 1,0 -6,0z';

var option = {
  backgroundColor: '#ffffff',
  animation: false,
  grid: grid,
  xAxis: xAxis,
  yAxis: yAxis,
  legend: {
    left: 231, top: 127, itemWidth: 26, itemHeight: 20, itemGap: 18,
    padding: [4, 8, 4, 21],
    backgroundColor: 'rgba(255,255,255,0.85)', borderColor: '#d6d6d6', borderWidth: 1, borderRadius: 4,
    textStyle: { color: INK, fontSize: 16, fontFamily: FONT },
    selectedMode: false,
    data: [
      { name: 'HARPS', icon: errIcon },
      { name: 'HARPS N', icon: errIcon },
      { name: 'ESPRESSO', icon: errIcon }
    ]
  },
  series: series
};

var chart = echarts.init(document.getElementById('main'));
chart.setOption(option);
</script>
</body>
</html>
